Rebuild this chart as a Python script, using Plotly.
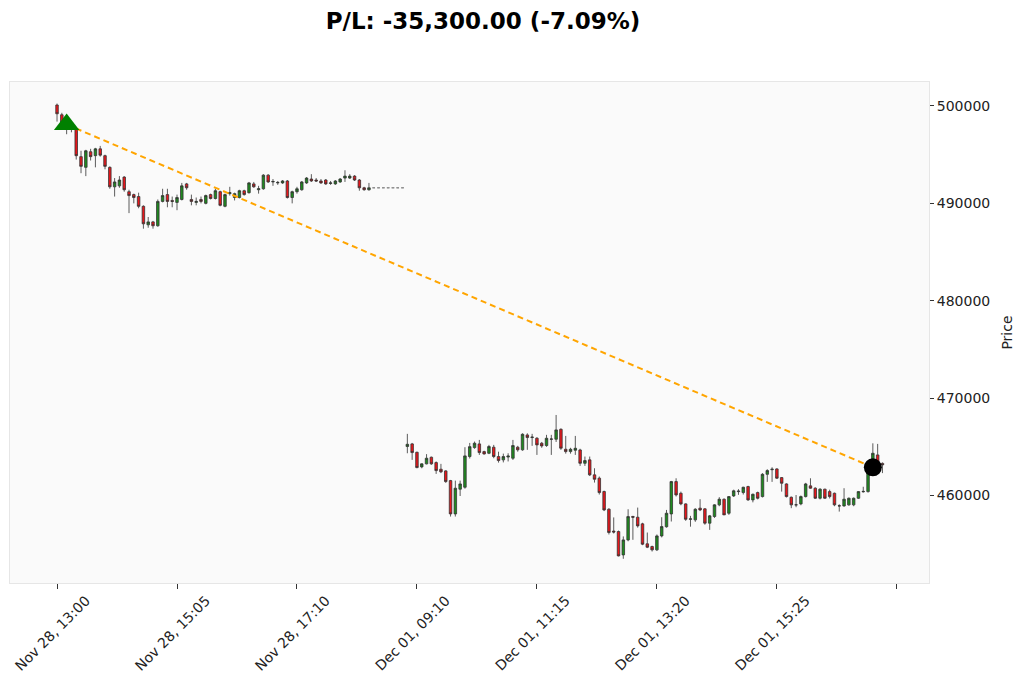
import plotly.graph_objects as go

# === 1. Data (5 min bars, Nov 28 13:00 -> Dec 01 17:15) ===
open_ = [
    500100, 499100, 497700, 497800, 497600, 494800, 493700, 495300, 494900, 495600,
    494900, 493700, 491700, 491800, 492700, 491200, 490900, 490700, 489700, 487800,
    488100, 487700, 490200, 490900, 490300, 490100, 490400, 492000, 490400, 490100,
    490400, 490000, 490900, 490500, 491200, 489700, 491000, 490600, 490600, 491300,
    491100, 492000, 491400, 491500, 492900, 492200, 492100, 492100, 492300, 490600,
    491200, 491400, 492100, 492500, 492400, 492300, 492400, 492050, 492000, 492200,
    492600, 492600, 492800, 492400, 491600, 491400,
    491600, 491600, 491600, 491600, 491600, 491600, 491600,
    465030, 465300, 464440, 462940, 463250, 463930, 463380, 462700, 462530, 461530,
    458110, 460650, 460850, 464000, 464920, 465300, 464510, 464340, 464960, 464000,
    463660, 463950, 463830, 464960, 464690, 466220, 465950, 465880, 465370, 465130,
    465780, 465780, 466800, 464750, 464510, 464650, 464680, 463310, 463660, 462120,
    461780, 460410, 458590, 456350, 456300, 453900, 455440, 457850, 457770, 457090,
    455040, 454760, 454420, 455850, 456790, 458110, 461430, 460230, 459140, 457560,
    457500, 458700, 458630, 457160, 457840, 459040, 459620, 458180, 459960, 460400,
    460300, 460920, 459550, 460300, 459890, 462180, 462650, 462730, 461840, 461190,
    459820, 459050, 459140, 459890, 460990, 460750, 459720, 460650, 460400, 460230,
    458950, 458930, 459040, 459040, 459720, 460380, 460400, 463310, 464170, 463300,
]
high_ = [
    500250, 499300, 498300, 498000, 497700, 495400, 495500, 495600, 495700, 495900,
    495000, 493800, 492600, 492800, 492800, 491400, 491000, 491100, 489800, 488600,
    488200, 490400, 491500, 491500, 490700, 490900, 492100, 492100, 490900, 490600,
    490700, 490900, 491000, 491500, 491300, 491000, 491700, 491100, 491400, 491400,
    492200, 492200, 491800, 493000, 493000, 492500, 492300, 492400, 492400, 491300,
    491700, 492300, 492700, 493000, 492600, 492500, 492500, 492300, 492400, 492600,
    493400, 493000, 492900, 492500, 491700, 492100,
    491600, 491600, 491600, 491600, 491600, 491600, 491600,
    466330, 465400, 464500, 463300, 464250, 464000, 463500, 463250, 462600, 461600,
    461530, 461530, 464960, 465400, 465540, 465710, 464600, 465200, 465200, 464500,
    464300, 464340, 465710, 465100, 466390, 466390, 466330, 466000, 465500, 466230,
    466230, 468270, 466900, 466120, 464900, 466120, 464800, 464000, 464000, 462800,
    461950, 460500, 458700, 457750, 456400, 455800, 458590, 457910, 458760, 457200,
    456200, 454850, 456000, 457770, 458520, 461500, 461770, 460400, 459200, 457910,
    458700, 459620, 458700, 458000, 459100, 459830, 459700, 459950, 460600, 460650,
    460900, 461000, 460200, 460400, 462300, 462700, 462900, 462800, 461900, 461250,
    459900, 460050, 460000, 461300, 461770, 460850, 460750, 460700, 460600, 460300,
    459100, 460750, 459800, 459800, 460450, 460900, 463400, 465360, 465300, 463400,
]
low_ = [
    498400, 498000, 497100, 497300, 494500, 493100, 492800, 494400, 493700, 494800,
    493500, 491500, 490700, 491600, 491200, 489000, 490000, 489500, 487400, 487500,
    487400, 487600, 490100, 489600, 489600, 489300, 490300, 491400, 489800, 489800,
    490000, 489900, 490400, 490400, 489700, 489600, 490800, 490300, 490500, 490800,
    491000, 491600, 491000, 491400, 492100, 491800, 491900, 492000, 490500, 490000,
    491000, 491300, 492000, 492200, 492200, 492000, 491900, 491900, 491900, 492100,
    492200, 492500, 492300, 491300, 491300, 491300,
    491600, 491600, 491600, 491600, 491600, 491600, 491600,
    464340, 463660, 462800, 462800, 463200, 463150, 462220, 462300, 461300, 457840,
    457840, 459950, 460700, 463800, 464800, 464170, 464200, 464250, 463830, 463380,
    463400, 463500, 463650, 464500, 464600, 464690, 465100, 464170, 464900, 465000,
    464170, 465500, 464690, 464300, 464300, 464170, 463040, 463040, 462000, 461330,
    460100, 458400, 456000, 456100, 453750, 453500, 455300, 455450, 456700, 454900,
    454600, 454250, 454300, 455700, 456700, 457330, 459900, 459000, 457400, 456800,
    457300, 458400, 457000, 456470, 457700, 458900, 458000, 458010, 459850, 460070,
    460100, 459450, 459300, 459600, 459800, 461400, 461400, 461700, 460400, 459800,
    458700, 458800, 459000, 459800, 460700, 459650, 459600, 459650, 459700, 458900,
    458350, 458850, 458950, 458900, 459650, 460300, 460300, 463200, 463100, 462300,
]
close_ = [
    499200, 498300, 498000, 497600, 494900, 493800, 495400, 494800, 495600, 494950,
    493800, 491700, 492200, 492400, 491400, 490800, 490600, 489700, 487900, 488100,
    487700, 490200, 490800, 490200, 490200, 490600, 491800, 491600, 490200, 490200,
    490200, 490800, 490500, 491300, 489800, 490900, 491100, 491000, 491300, 490900,
    492100, 491700, 491500, 492900, 492200, 492250, 492150, 492300, 490600, 491200,
    491500, 492200, 492600, 492300, 492300, 492100, 492000, 492100, 492300, 492500,
    492800, 492800, 492400, 491600, 491400, 491600,
    491600, 491600, 491600, 491600, 491600, 491600, 491600,
    465260, 464410, 462870, 463250, 463830, 463250, 462560, 462430, 461430, 458110,
    460750, 461190, 464070, 465020, 465370, 464410, 464270, 465030, 464000, 463590,
    464000, 464050, 465130, 464690, 466290, 465950, 466000, 465200, 465090, 465880,
    465800, 466740, 464860, 464510, 464750, 464850, 463310, 463590, 462120, 461670,
    460300, 458520, 456200, 456250, 453800, 455440, 457840, 457770, 456880, 455000,
    454690, 454420, 455850, 456810, 458180, 461430, 460060, 459140, 457560, 457600,
    458590, 458520, 457160, 457910, 459040, 459620, 458010, 459890, 460480, 460450,
    460850, 459550, 460130, 459720, 462180, 462560, 462700, 461780, 461260, 459890,
    459040, 459040, 459890, 461190, 460750, 459720, 460650, 459720, 459890, 459040,
    458930, 459620, 459720, 459720, 460400, 460420, 463310, 464340, 463310, 463150,
]

tick_pos = [0, 25, 50, 75, 100, 125, 150, 175]
tick_text = ["Nov 28, 13:00", "Nov 28, 15:05", "Nov 28, 17:10", "Dec 01, 09:10",
             "Dec 01, 11:15", "Dec 01, 13:20", "Dec 01, 15:25", ""]
price_ticks = [460000, 470000, 480000, 490000, 500000]

trade_x = [2, 170]
trade_price = [498100, 462900]
title_text = "P/L: -35,300.00 (-7.09%)"

# === 2. Split real bars from flat (no trade) bars ===
idx = list(range(len(close_)))
flat = [i for i in idx if open_[i] == high_[i] == low_[i] == close_[i]]
real = [i for i in idx if i not in flat]

fig = go.Figure()
fig.add_trace(go.Candlestick(
    x=real,
    open=[open_[i] for i in real], high=[high_[i] for i in real],
    low=[low_[i] for i in real], close=[close_[i] for i in real],
    increasing=dict(fillcolor="#1f8a1f", line=dict(color="#333333", width=0.8)),
    decreasing=dict(fillcolor="#e8161b", line=dict(color="#333333", width=0.8)),
    whiskerwidth=0,
))
fig.add_trace(go.Candlestick(
    x=flat,
    open=[open_[i] for i in flat], high=[high_[i] for i in flat],
    low=[low_[i] for i in flat], close=[close_[i] for i in flat],
    increasing=dict(fillcolor="#888888", line=dict(color="#888888", width=0.8)),
    decreasing=dict(fillcolor="#888888", line=dict(color="#888888", width=0.8)),
))

# trade line + markers
fig.add_trace(go.Scatter(
    x=trade_x, y=trade_price, mode="lines",
    line=dict(color="#FFA500", width=2, dash="6px,4px"),
))
fig.add_trace(go.Scatter(
    x=trade_x[:1], y=trade_price[:1], mode="markers",
    marker=dict(symbol="triangle-up", size=22, color="#008000"),
))
fig.add_trace(go.Scatter(
    x=trade_x[1:], y=trade_price[1:], mode="markers",
    marker=dict(symbol="circle", size=18, color="black"),
))

# === 3. Layout ===
# page body adds an 8px margin, so the figure is sized 8px smaller
font = "DejaVu Sans"
fig.update_layout(
    width=1016, height=678,
    margin=dict(l=2, r=95, t=74, b=103),
    paper_bgcolor="white",
    plot_bgcolor="#fafafa",
    showlegend=False,
    boxgap=0.25,
    font=dict(family=font, size=14, color="#222222"),
    title=dict(text=f"<b>{title_text}</b>", x=0.4675, xanchor="center",
               y=0.981, yanchor="middle", font=dict(family=font, size=23, color="black")),
    xaxis=dict(
        range=[-9.8, 181.7], tickvals=tick_pos, ticktext=tick_text, tickangle=-45,
        ticks="outside", ticklen=5, tickcolor="#333333", showgrid=False, zeroline=False,
        showline=True, linecolor="#e6e6e6", mirror=True, rangeslider=dict(visible=False),
        tickfont=dict(size=14), automargin=False, ticklabeloverflow="allow",
        ticklabelshift=29, ticklabelstandoff=-2,
    ),
    yaxis=dict(
        side="right", range=[451016, 502464], tickvals=price_ticks, tickformat="d",
        ticks="outside", ticklen=4, tickcolor="#333333", showgrid=False, zeroline=False,
        showline=True, linecolor="#e6e6e6", mirror=True, automargin=False,
        title=dict(text="Price", standoff=12, font=dict(size=14)),
    ),
)

fig.write_html("out.html")
